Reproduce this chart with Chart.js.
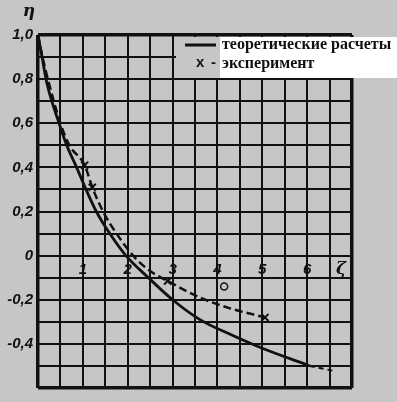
<!DOCTYPE html>
<html>
<head>
<meta charset="utf-8">
<script src="https://cdn.jsdelivr.net/npm/chart.js@4/dist/chart.umd.min.js"></script>
<style>
  html, body { margin: 0; padding: 0; background: #c6c6c6; }
  #wrap { position: relative; width: 397px; height: 402px; }
</style>
</head>
<body>
<div id="wrap"><canvas id="chart" width="397" height="402"></canvas></div>
<script>
// theoretical curve (solid) and its dashed tail
const zetaTheory = [0, 0.09, 0.2, 0.47, 0.64, 0.86, 1.07, 1.3, 1.6, 1.96, 2.46, 3.0, 3.61, 4.32, 5.0, 6.06];
const etaTheory  = [1.0, 0.9, 0.78, 0.6, 0.5, 0.4, 0.3, 0.2, 0.1, 0, -0.1, -0.2, -0.29, -0.36, -0.42, -0.50];
const zetaTail = [6.06, 6.65];
const etaTail  = [-0.50, -0.525];

// experiment (dashed) and measured points
const zetaExp = [0, 0.1, 0.22, 0.5, 0.7, 1.04, 1.21, 1.45, 1.75, 2.12, 2.5, 2.89, 3.61, 4.3, 5.06];
const etaExp  = [1.0, 0.9, 0.8, 0.6, 0.5, 0.41, 0.31, 0.2, 0.1, 0, -0.07, -0.115, -0.19, -0.24, -0.28];
const zetaCross = [1.04, 1.21, 2.89, 5.06];
const etaCross  = [0.41, 0.31, -0.115, -0.28];
const zetaRing = [4.15];
const etaRing  = [-0.14];

const xTickLabels = ['1', '2', '3', '4', '5', '6'];
const yTickLabels = ['1,0', '0,8', '0,6', '0,4', '0,2', '0', '-0,2', '-0,4'];
const legendLabels = ['теоретические расчеты', 'эксперимент'];

const pts = (xs, ys) => xs.map((x, i) => ({ x, y: ys[i] }));
const INK = '#111';

const overlay = {
  id: 'overlay',
  afterDraw(chart) {
    const c = chart.ctx;
    const { top } = chart.chartArea;
    c.save();
    // legend box over grid
    c.fillStyle = '#c6c6c6';
    c.fillRect(176, top + 2, 44, 41);
    c.fillStyle = '#fff';
    c.fillRect(220, top + 2, 177, 41);
    c.strokeStyle = INK;
    c.lineWidth = 3;
    c.beginPath(); c.moveTo(185, 45); c.lineTo(216, 45); c.stroke();
    c.fillStyle = INK;
    c.font = 'bold 15px "Liberation Sans"';
    c.textBaseline = 'middle';
    c.fillText('x', 196, 63);
    c.fillText('-', 211, 63);
    c.font = 'bold 16px "Liberation Serif"';
    c.fillText(legendLabels[0], 222, 45);
    c.fillText(legendLabels[1], 222, 64);
    // axis names
    c.font = 'italic bold 17px "DejaVu Serif"';
    c.textAlign = 'center';
    c.fillText('η', 29, 12);
    c.fillText('ζ', 341, 270);
    c.restore();
  }
};

const gridWidth = ctx => (ctx.index === 0 || ctx.index === ctx.scale.ticks.length - 1) ? 3.5 : 2;
const tickFont = { family: 'Liberation Sans', size: 15, style: 'italic', weight: 'bold' };

new Chart(document.getElementById('chart'), {
  type: 'line',
  data: {
    datasets: [
      { data: pts(zetaTheory, etaTheory), borderColor: INK, borderWidth: 2.8, pointRadius: 0, cubicInterpolationMode: 'monotone' },
      { data: pts(zetaTail, etaTail), borderColor: INK, borderWidth: 2, borderDash: [5, 4], pointRadius: 0 },
      { data: pts(zetaExp, etaExp), borderColor: INK, borderWidth: 2.5, borderDash: [8, 4], pointRadius: 0, cubicInterpolationMode: 'monotone' },
      { data: pts(zetaCross, etaCross), showLine: false, pointStyle: 'crossRot', pointRadius: 5, borderColor: INK, pointBorderWidth: 2 },
      { data: pts(zetaRing, etaRing), showLine: false, pointStyle: 'circle', pointRadius: 3.5, borderColor: INK, backgroundColor: 'transparent', pointBorderWidth: 1.5 },
    ]
  },
  options: {
    responsive: false,
    animation: false,
    layout: { padding: { left: 0, top: 35, right: 45, bottom: 9 } },
    plugins: { legend: { display: false }, tooltip: { enabled: false } },
    scales: {
      x: {
        type: 'linear',
        position: { y: 0 },
        min: 0, max: 7,
        afterFit: s => { s.height = 0; },
        ticks: {
          stepSize: 0.5,
          autoSkip: false,
          maxRotation: 0,
          padding: 5,
          color: INK,
          font: tickFont,
          callback: v => (Number.isInteger(v) && v >= 1 && v <= 6) ? xTickLabels[v - 1] : '',
        },
        grid: { color: INK, lineWidth: gridWidth, drawTicks: false },
        border: { display: false },
      },
      y: {
        min: -0.6, max: 1.0,
        afterFit: s => { s.width = 38; },
        ticks: {
          stepSize: 0.1,
          autoSkip: false,
          padding: 5,
          color: INK,
          font: tickFont,
          callback: v => {
            const r = Math.round(v * 10);
            return (r % 2 === 0 && r >= -4) ? yTickLabels[(10 - r) / 2] : '';
          },
        },
        grid: { color: INK, lineWidth: gridWidth, drawTicks: false },
        border: { display: false },
      }
    }
  },
  plugins: [overlay]
});
</script>
</body>
</html>
